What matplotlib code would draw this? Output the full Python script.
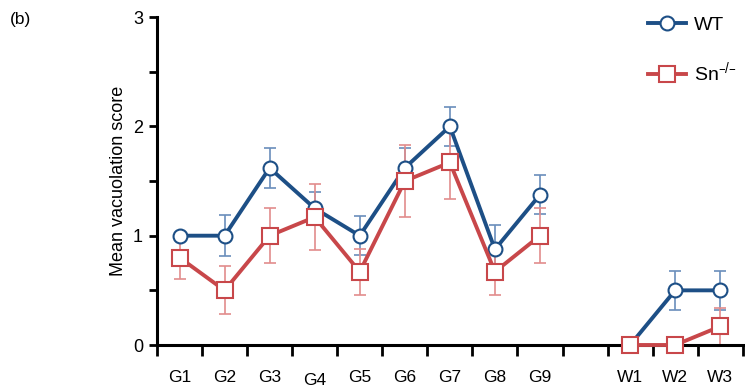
import matplotlib.pyplot as plt
import numpy as np

# --- Data ---
groups = ["G1", "G2", "G3", "G4", "G5", "G6", "G7", "G8", "G9", "W1", "W2", "W3"]
slots = [0, 1, 2, 3, 4, 5, 6, 7, 8, 10, 11, 12]   # slot 9 is left empty

wt_mean = [1.0, 1.0, 1.62, 1.25, 1.0, 1.62, 2.0, 0.875, 1.375, 0.0, 0.5, 0.5]
wt_err = [0.0, 0.19, 0.18, 0.15, 0.18, 0.18, 0.18, 0.22, 0.18, 0.0, 0.18, 0.18]

sn_mean = [0.8, 0.5, 1.0, 1.17, 0.67, 1.5, 1.67, 0.67, 1.0, 0.0, 0.0, 0.17]
sn_err = [0.2, 0.22, 0.25, 0.30, 0.21, 0.33, 0.33, 0.21, 0.25, 0.0, 0.0, 0.17]

plt.rcParams['font.family'] = ['Liberation Sans', 'DejaVu Sans']

BLUE = '#1d4f86'
BLUE_ERR = '#6a8dbb'
RED = '#c8474a'
RED_ERR = '#e28c8c'

fig = plt.figure(figsize=(7.45, 3.89), dpi=100)
ax = fig.add_axes([0.2107, 0.1131, 0.7863, 0.843])

x = np.array(slots) + 0.5
xg = x[:9]
xw = x[9:]

def draw(mean, err, color, ecolor, marker, ms, label):
    mean = np.array(mean)
    err = np.array(err)
    ax.errorbar(x, mean, yerr=err, fmt='none', ecolor=ecolor, elinewidth=1.2,
                capsize=4, capthick=1.2, clip_on=False, zorder=2)
    ax.plot(xg, mean[:9], color=color, lw=2.8, marker=marker, ms=ms,
            mfc='white', mec=color, mew=1.5, clip_on=False, zorder=3, label=label)
    ax.plot(xw, mean[9:], color=color, lw=2.8, marker=marker, ms=ms,
            mfc='white', mec=color, mew=1.5, clip_on=False, zorder=3)

draw(wt_mean, wt_err, BLUE, BLUE_ERR, 'o', 10, 'WT')
draw(sn_mean, sn_err, RED, RED_ERR, 's', 11, r'Sn$^{\mathregular{–/–}}$')

ax.set_xlim(0, 13)
ax.set_ylim(0, 3)

ax.set_yticks([0, 1, 2, 3])
ax.set_yticks([0.5, 1.5, 2.5], minor=True)
ax.tick_params(axis='y', which='both', length=6, width=2, labelsize=13, pad=4)

ax.set_xticks(np.arange(0, 14))
ax.set_xticklabels([])
ax.tick_params(axis='x', which='major', direction='out', length=8, width=2)

# group labels under the axis (G4 sits a little lower in the original)
for xi, g in zip(x, groups):
    dy = -0.109 if g == "G4" else -0.1
    ax.text(xi, dy, g, transform=ax.get_xaxis_transform(), ha='center',
            va='center', fontsize=12.5)

for s in ['top', 'right']:
    ax.spines[s].set_visible(False)
for s in ['left', 'bottom']:
    ax.spines[s].set_linewidth(2.2)

ax.set_ylabel("Mean vacuolation score", fontsize=13, labelpad=4)

ax.legend(loc='upper right', bbox_to_anchor=(1.02, 1.055), frameon=False,
          fontsize=14, handlelength=2.0, labelspacing=1.35, handletextpad=0.4)

fig.text(0.013, 0.95, "(b)", fontsize=12.5, va='center', ha='left')

fig.savefig("out.png", dpi=100)
